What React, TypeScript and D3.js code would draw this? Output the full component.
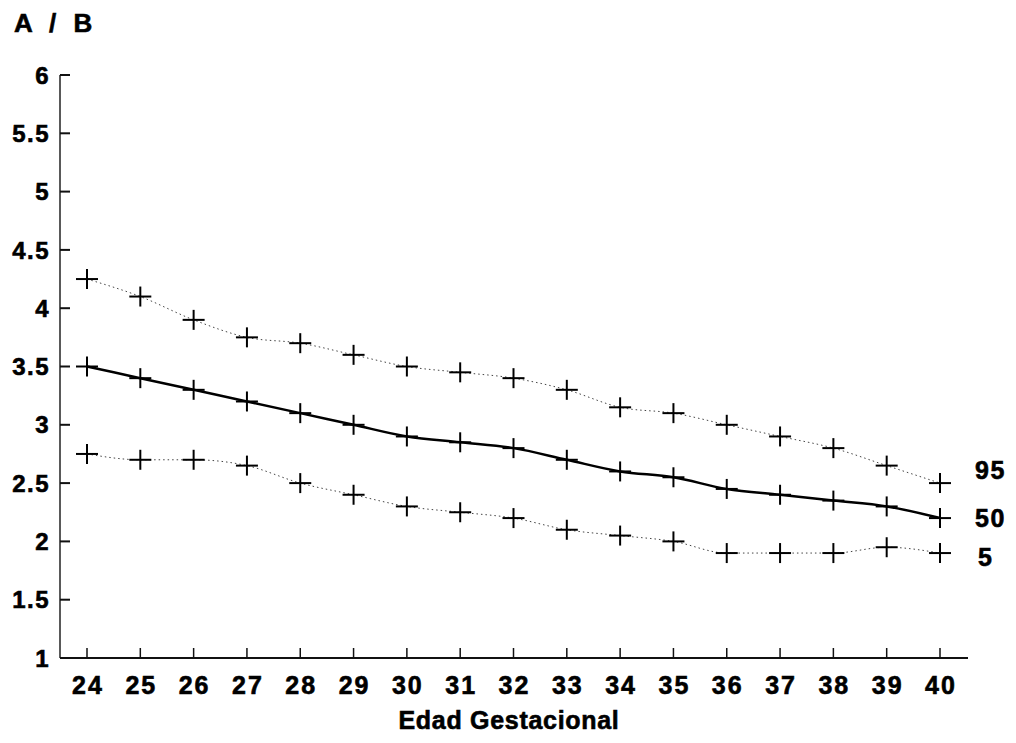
import React, { useEffect, useRef } from "react";
import * as d3 from "d3";

const weeks = [24, 25, 26, 27, 28, 29, 30, 31, 32, 33, 34, 35, 36, 37, 38, 39, 40];
const p95 = [4.25, 4.1, 3.9, 3.75, 3.7, 3.6, 3.5, 3.45, 3.4, 3.3, 3.15, 3.1, 3.0, 2.9, 2.8, 2.65, 2.5];
const p50 = [3.5, 3.4, 3.3, 3.2, 3.1, 3.0, 2.9, 2.85, 2.8, 2.7, 2.6, 2.55, 2.45, 2.4, 2.35, 2.3, 2.2];
const p5 = [2.75, 2.7, 2.7, 2.65, 2.5, 2.4, 2.3, 2.25, 2.2, 2.1, 2.05, 2.0, 1.9, 1.9, 1.9, 1.95, 1.9];
const yTicks = [1, 1.5, 2, 2.5, 3, 3.5, 4, 4.5, 5, 5.5, 6];
const seriesLabels = ["95", "50", "5"];

const FONT = "'Liberation Sans', Arial, sans-serif";

export default function App() {
  const ref = useRef<SVGSVGElement>(null);
  useEffect(() => {
    const svg = d3.select(ref.current);
    svg.selectAll("*").remove();
    const x = d3.scaleLinear().domain([24, 40]).range([87, 940]);
    const y = d3.scaleLinear().domain([1, 6]).range([658, 75]);
    const axisLeft = 60;
    const axisRight = 968;

    const txt = (sel: any) =>
      sel.attr("font-family", FONT).attr("font-weight", "bold").attr("fill", "#000")
        .attr("stroke", "#000").attr("stroke-width", 0.6);

    // axes lines
    svg.append("line").attr("x1", axisLeft).attr("x2", axisLeft).attr("y1", y(6)).attr("y2", y(1))
      .attr("stroke", "#222").attr("stroke-width", 1.5);
    svg.append("line").attr("x1", axisLeft).attr("x2", axisRight).attr("y1", y(1)).attr("y2", y(1))
      .attr("stroke", "#111").attr("stroke-width", 2);

    // y ticks
    const yt = svg.append("g");
    yTicks.forEach((t) => {
      yt.append("line").attr("x1", axisLeft).attr("x2", axisLeft + 10).attr("y1", y(t)).attr("y2", y(t))
        .attr("stroke", "#111").attr("stroke-width", 2);
      txt(yt.append("text").attr("x", 50).attr("y", y(t)).attr("dy", "0.36em")
        .attr("text-anchor", "end").attr("font-size", 24).attr("letter-spacing", 1.5)).text(String(t));
    });

    // x ticks
    const xt = svg.append("g");
    weeks.forEach((w) => {
      xt.append("line").attr("x1", x(w)).attr("x2", x(w)).attr("y1", y(1)).attr("y2", y(1) - 10)
        .attr("stroke", "#111").attr("stroke-width", 1.5);
      txt(xt.append("text").attr("x", x(w) + 1).attr("y", 694)
        .attr("text-anchor", "middle").attr("font-size", 25).attr("letter-spacing", 2)).text(String(w));
    });

    const line = d3.line<number>().x((_, i) => x(weeks[i])).y((v) => y(v)).curve(d3.curveMonotoneX);

    const series = [
      { data: p95, dotted: true },
      { data: p50, dotted: false },
      { data: p5, dotted: true },
    ];
    series.forEach((s) => {
      svg.append("path").attr("d", line(s.data) || "").attr("fill", "none")
        .attr("stroke", s.dotted ? "#444" : "#000")
        .attr("stroke-width", s.dotted ? 1 : 2.5)
        .attr("stroke-dasharray", s.dotted ? "1.5,3" : null);
      const g = svg.append("g");
      s.data.forEach((v, i) => {
        const cx = x(weeks[i]);
        const cy = y(v);
        g.append("line").attr("x1", cx - 11).attr("x2", cx + 11).attr("y1", cy).attr("y2", cy)
          .attr("stroke", "#000").attr("stroke-width", 2);
        g.append("line").attr("x1", cx).attr("x2", cx).attr("y1", cy - 10).attr("y2", cy + 10)
          .attr("stroke", "#000").attr("stroke-width", 2);
      });
    });

    // series labels
    const lastIdx = weeks.length - 1;
    const labelYs = [p95[lastIdx] + 0.11, p50[lastIdx], p5[lastIdx] - 0.03];
    seriesLabels.forEach((lab, i) => {
      txt(svg.append("text").attr("x", lab === "5" ? 978 : 975).attr("y", y(labelYs[i])).attr("dy", "0.36em")
        .attr("font-size", 25).attr("letter-spacing", 1.5)).text(lab);
    });

    // titles
    txt(svg.append("text").attr("x", 14).attr("y", 32).attr("font-size", 26).attr("letter-spacing", 5)
      .attr("xml:space", "preserve")).text("A / B");
    txt(svg.append("text").attr("x", 509).attr("y", 729).attr("text-anchor", "middle")
      .attr("font-size", 25).attr("letter-spacing", 0.7)).text("Edad Gestacional");
  }, []);
  return (
    <svg ref={ref} width={1016} height={743}
      style={{ position: "absolute", left: 0, top: 0, background: "#fff" }} />
  );
}
